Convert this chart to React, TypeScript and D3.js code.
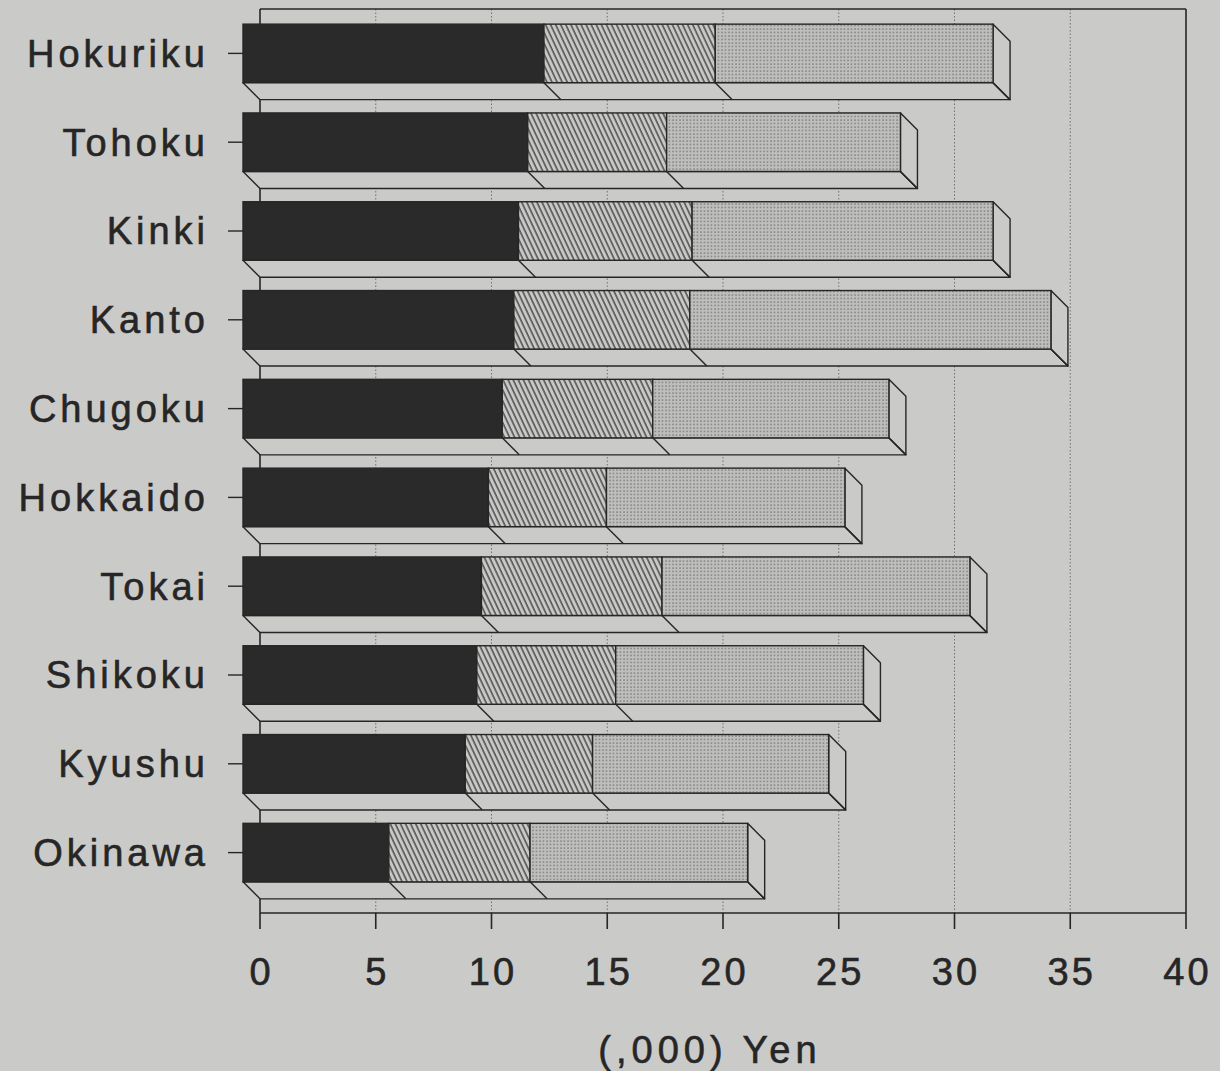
import React from 'react';
import * as d3 from 'd3';

// regions, top to bottom
const regions = ['Hokuriku', 'Tohoku', 'Kinki', 'Kanto', 'Chugoku', 'Hokkaido', 'Tokai', 'Shikoku', 'Kyushu', 'Okinawa'];
// three stacked parts of each bar, (,000) yen
const solidPart = [13.0, 12.3, 11.9, 11.7, 11.2, 10.6, 10.3, 10.1, 9.6, 6.3];
const hatchedPart = [7.4, 6.0, 7.5, 7.6, 6.5, 5.1, 7.8, 6.0, 5.5, 6.1];
const dottedPart = [12.0, 10.1, 13.0, 15.6, 10.2, 10.3, 13.3, 10.7, 10.2, 9.4];
const xTicks = [0, 5, 10, 15, 20, 25, 30, 35, 40];
const xLabel = '(,000) Yen';

const width = 1220;
const height = 1071;
const depth = 17; // 3d offset of the bars
const font = "'Liberation Sans', Arial, Helvetica, sans-serif";
const ink = '#262626';
const paper = '#cacac9';

export default function App() {
  const x = d3.scaleLinear().domain([0, 40]).range([260, 1186]);
  const y = d3.scaleBand().domain(regions).range([9, 897]).paddingInner(0.341).paddingOuter(0.1705);
  const axisY = 913;
  const top = 9;

  const rows = regions.map((r, i) => ({ region: r, solid: solidPart[i], hatched: hatchedPart[i], dotted: dottedPart[i] }));
  const stack = d3.stack<any>().keys(['solid', 'hatched', 'dotted'])(rows);
  const fills: Record<string, string> = { solid: '#2a2a2a', hatched: 'url(#hatch)', dotted: 'url(#dots)' };

  const bw = y.bandwidth();
  const fx = (v: number) => x(v) - depth; // front face

  const textStyle = { fontFamily: font, fontSize: 38, fill: ink, stroke: ink, strokeWidth: 0.6 };

  return (
    <svg width={width} height={height} style={{ position: 'absolute', left: 0, top: 0, display: 'block' }}>
      <defs>
        <pattern id="hatch" width="4.6" height="8" patternUnits="userSpaceOnUse" patternTransform="rotate(-25)">
          <rect width="4.6" height="8" fill="#c8c8c7" />
          <line x1="1" y1="0" x2="1" y2="8" stroke="#3a3a3a" strokeWidth="1.3" />
        </pattern>
        <pattern id="dots" width="3.5" height="3.5" patternUnits="userSpaceOnUse">
          <rect width="3.5" height="3.5" fill="#bebebd" />
          <circle cx="1" cy="1" r="0.8" fill="#767676" />
        </pattern>
      </defs>
      <rect width={width} height={height} fill={paper} />

      {/* back wall frame and grid */}
      {xTicks.slice(1, -1).map(t => (
        <line key={'g' + t} x1={x(t)} x2={x(t)} y1={top} y2={axisY} stroke="#707070" strokeWidth={1} strokeDasharray="1.5,2" />
      ))}
      <line x1={x(0)} x2={x(40)} y1={top} y2={top} stroke={ink} strokeWidth={1.6} />
      <line x1={x(40)} x2={x(40)} y1={top} y2={axisY} stroke={ink} strokeWidth={1.6} />
      <line x1={x(0)} x2={x(0)} y1={top} y2={axisY} stroke={ink} strokeWidth={1.6} />
      <line x1={x(0)} x2={x(40)} y1={axisY} y2={axisY} stroke={ink} strokeWidth={1.6} />
      {xTicks.map(t => (
        <g key={'t' + t}>
          <line x1={x(t)} x2={x(t)} y1={axisY} y2={axisY + 16} stroke={ink} strokeWidth={1.6} />
          <text x={x(t) + 1.5} y={972} textAnchor="middle" dy="0.35em" letterSpacing={3} {...textStyle}>
            {t}
          </text>
        </g>
      ))}
      <text x={710} y={1050} textAnchor="middle" dy="0.35em" letterSpacing={5} {...textStyle}>
        {xLabel}
      </text>

      {/* bars */}
      {rows.map((row, i) => {
        const y0 = y(row.region)!;
        const y1 = y0 + bw;
        const end = fx(stack[2][i][1]);
        return (
          <g key={row.region}>
            {/* bottom face */}
            <polygon
              points={`${fx(0)},${y1} ${end},${y1} ${end + depth},${y1 + depth} ${fx(0) + depth},${y1 + depth}`}
              fill={paper}
              stroke={ink}
              strokeWidth={1.4}
              strokeLinejoin="round"
            />
            {/* right end face */}
            <polygon
              points={`${end},${y0} ${end + depth},${y0 + depth} ${end + depth},${y1 + depth} ${end},${y1}`}
              fill={paper}
              stroke={ink}
              strokeWidth={1.4}
              strokeLinejoin="round"
            />
            {stack.map(s => (
              <g key={s.key}>
                <rect x={fx(s[i][0])} y={y0} width={fx(s[i][1]) - fx(s[i][0])} height={bw} fill={fills[s.key]} stroke={ink} strokeWidth={1.4} />
                <line x1={fx(s[i][1])} y1={y1} x2={fx(s[i][1]) + depth} y2={y1 + depth} stroke={ink} strokeWidth={1.4} />
              </g>
            ))}
            {/* category tick */}
            <line x1={228} x2={fx(0)} y1={y0 + bw / 2} y2={y0 + bw / 2} stroke={ink} strokeWidth={1.4} />
            <text x={209} y={y0 + bw / 2} textAnchor="end" dy="0.35em" letterSpacing={4} {...textStyle}>
              {row.region}
            </text>
          </g>
        );
      })}
    </svg>
  );
}
